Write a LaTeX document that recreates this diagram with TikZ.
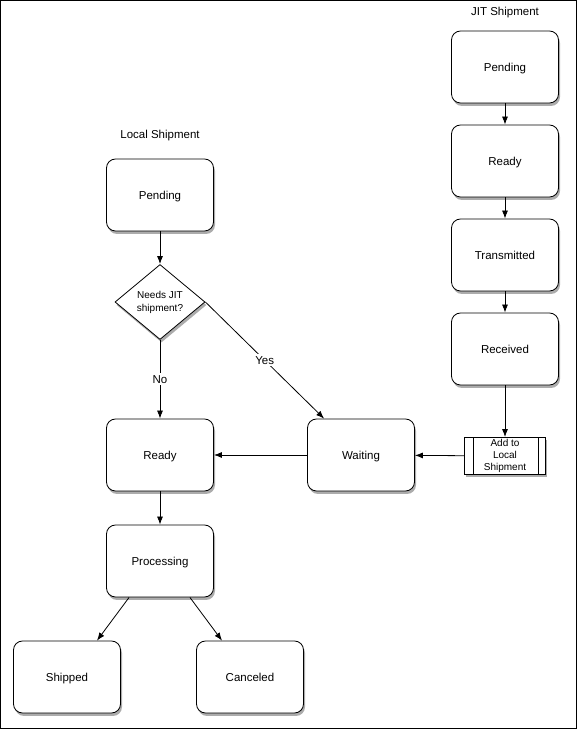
\documentclass[tikz,border=0pt]{standalone}
\usepackage{fontspec}
\setmainfont{Liberation Sans}
\usetikzlibrary{arrows,arrows.meta,shapes,calc,positioning,shadows}
\tikzstyle{arrow}=[draw,-{Latex[length=8pt,width=6pt]},line width=0.8pt]
\tikzstyle{state} =
  [rectangle, draw, fill=white, line width=0.8pt, font=\fontsize{11.5}{14}\selectfont,
   minimum width=107pt, text centered, rounded corners=9pt, minimum height=72pt,
   text height=10.5pt, text depth=2pt,
   drop shadow={shadow xshift=1.5pt,shadow yshift=-3pt,opacity=0.65}]
\tikzstyle{decision} =
  [diamond, draw, fill=white, line width=0.8pt, align=center, inner sep=0pt,
   font=\fontsize{10}{13}\selectfont, minimum width=90pt, minimum height=75pt,
   drop shadow={shadow xshift=1.5pt,shadow yshift=-3pt,opacity=0.65}]
\tikzstyle{process} =
  [rectangle, draw, fill=white, line width=0.8pt, align=center, inner sep=1pt,
   font=\fontsize{10}{12}\selectfont, minimum width=81pt, minimum height=37pt,
   drop shadow={shadow xshift=1.5pt,shadow yshift=-3pt,opacity=0.65}]
\tikzstyle{title} = [font=\fontsize{11.5}{14}\selectfont]
\tikzstyle{lbl} = [fill=white, inner sep=2pt, font=\fontsize{11.5}{14}\selectfont]

\begin{document}
\begin{tikzpicture}[x=1pt, y=1pt, node distance=94pt]
  \useasboundingbox (0,0) rectangle (577,729);
  \draw [line width=1pt] (0.5,0.5) rectangle (576.5,728.5);

  % local shipment
  \node [title] (ltitle) at (160,593) {Local Shipment};
  \node [state, below of=ltitle, node distance=59pt] (lpend) {Pending};
  \node [decision, below of=lpend, node distance=107pt] (need) {Needs JIT\\shipment?};
  \node [state, below of=need, node distance=153pt] (lready) {Ready};
  \node [state, below of=lready, node distance=106pt] (proc) {Processing};
  \node [state, below of=proc, node distance=116pt, xshift=-93pt] (shipped) {Shipped};
  \node [state, below of=proc, node distance=116pt, xshift=90pt] (canceled) {Canceled};
  \node [state, right of=lready, node distance=201pt] (wait) {Waiting};

  % jit shipment
  \node [title] (jtitle) at (505,716) {JIT Shipment};
  \node [state, below of=jtitle, node distance=54pt] (jpend) {Pending};
  \node [state, below of=jpend] (jready) {Ready};
  \node [state, below of=jready] (trans) {Transmitted};
  \node [state, below of=trans] (recv) {Received};
  \node [process, below of=recv, node distance=106pt, yshift=-1pt] (add) {Add to\\Local\\Shipment};
  \draw [line width=0.8pt] ([xshift=9pt]add.north west) -- ([xshift=9pt]add.south west);
  \draw [line width=0.8pt] ([xshift=-8pt]add.north east) -- ([xshift=-8pt]add.south east);

  \draw [arrow] (lpend) -- (need);
  \draw [arrow] (need) -- node [lbl] {No} (lready);
  \draw [arrow] (need.east) -- node [lbl] {Yes} ([xshift=17pt]wait.north west);
  \draw [arrow] (wait) -- (lready);
  \draw [arrow] (lready) -- (proc);
  \draw [arrow] ([xshift=23pt]proc.south west) -- ([xshift=30pt]shipped.north);
  \draw [arrow] ([xshift=-24pt]proc.south east) -- ([xshift=-28pt]canceled.north);

  \draw [arrow] (jpend) -- (jready);
  \draw [arrow] (jready) -- (trans);
  \draw [arrow] (trans) -- (recv);
  \draw [arrow] (recv) -- (add);
  \draw [arrow] (add) -- (wait);
\end{tikzpicture}
\end{document}
